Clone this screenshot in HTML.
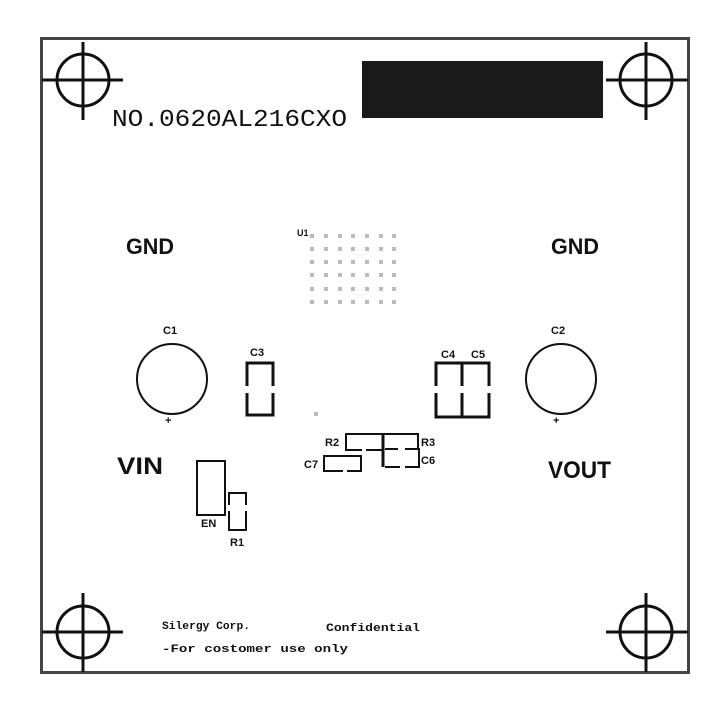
<!DOCTYPE html>
<html><head><meta charset="utf-8"><style>html,body{margin:0;padding:0;background:#fff}svg{display:block}</style></head>
<body>
<svg width="720" height="720" viewBox="0 0 720 720" xmlns="http://www.w3.org/2000/svg">
<rect width="720" height="720" fill="#fff"/>
<rect x="41.5" y="38.5" width="647" height="634" fill="none" stroke="#444" stroke-width="3"/>
<g stroke="#111" stroke-width="3" fill="none">
<circle cx="83" cy="80" r="26"/><line x1="42" y1="80" x2="123" y2="80"/><line x1="83" y1="42" x2="83" y2="120"/>
<circle cx="646" cy="80" r="26"/><line x1="606" y1="80" x2="688" y2="80"/><line x1="646" y1="42" x2="646" y2="120"/>
<circle cx="83" cy="632" r="26"/><line x1="42" y1="632" x2="123" y2="632"/><line x1="83" y1="593" x2="83" y2="672"/>
<circle cx="646" cy="632" r="26"/><line x1="606" y1="632" x2="688" y2="632"/><line x1="646" y1="593" x2="646" y2="672"/>
</g>
<rect x="362" y="61" width="241" height="57" fill="#1a1a1a"/>
<text x="112" y="126" font-family="Liberation Mono, monospace" font-size="24" textLength="235" lengthAdjust="spacingAndGlyphs" fill="#111">NO.0620AL216CXO</text>
<g font-family="Liberation Sans, sans-serif" font-weight="bold" fill="#111">
<text x="126" y="254" font-size="22" textLength="48" lengthAdjust="spacingAndGlyphs">GND</text>
<text x="551" y="254" font-size="22" textLength="48" lengthAdjust="spacingAndGlyphs">GND</text>
<text x="117" y="474" font-size="24" textLength="46" lengthAdjust="spacingAndGlyphs">VIN</text>
<text x="548" y="478" font-size="24" textLength="63" lengthAdjust="spacingAndGlyphs">VOUT</text>
<g font-size="11">
<text x="163" y="334">C1</text><text x="551" y="334">C2</text><text x="250" y="356">C3</text>
<text x="441" y="358">C4</text><text x="471" y="358">C5</text>
<text x="297" y="236" font-size="9">U1</text>
<text x="325" y="446">R2</text><text x="421" y="446">R3</text><text x="421" y="464">C6</text><text x="304" y="468">C7</text>
<text x="201" y="527">EN</text><text x="230" y="546">R1</text>
<text x="165" y="424">+</text><text x="553" y="424">+</text>
</g>
<g font-family="Liberation Mono, monospace" font-size="11">
<text x="162" y="629" textLength="88" lengthAdjust="spacingAndGlyphs">Silergy Corp.</text>
<text x="326" y="631" textLength="94" lengthAdjust="spacingAndGlyphs">Confidential</text>
<text x="162" y="652" textLength="186" lengthAdjust="spacingAndGlyphs">-For costomer use only</text>
</g>
</g>
<g stroke="#111" fill="none">
<circle cx="172" cy="379" r="35" stroke-width="2"/>
<circle cx="561" cy="379" r="35" stroke-width="2"/>
<path d="M247 386V363H273V386M247 393V415H273V393" stroke-width="3"/>
<path d="M436 386V363H462V386M436 393V417H462V393M462 386V363H489V386M462 393V417H489V393" stroke-width="3"/>
<g stroke-width="2">
<path d="M418 450V434H346V450H362M366 450H382"/>
<path d="M383 434V467" stroke-width="3"/>
<path d="M385 449H398M405 449H419V467H405M400 467H385"/>
<path d="M343 471H324V456H361V471H347"/>
</g>
<rect x="197" y="461" width="28" height="54" stroke-width="2"/>
<path d="M229 505V493H246V505M229 511V530H246V511" stroke-width="2"/>
</g>
<g fill="#bbb">
<rect x="310" y="234" width="4" height="4"/><rect x="324" y="234" width="4" height="4"/><rect x="338" y="234" width="4" height="4"/><rect x="351" y="234" width="4" height="4"/><rect x="365" y="234" width="4" height="4"/><rect x="379" y="234" width="4" height="4"/><rect x="392" y="234" width="4" height="4"/>
<rect x="310" y="247" width="4" height="4"/><rect x="324" y="247" width="4" height="4"/><rect x="338" y="247" width="4" height="4"/><rect x="351" y="247" width="4" height="4"/><rect x="365" y="247" width="4" height="4"/><rect x="379" y="247" width="4" height="4"/><rect x="392" y="247" width="4" height="4"/>
<rect x="310" y="260" width="4" height="4"/><rect x="324" y="260" width="4" height="4"/><rect x="338" y="260" width="4" height="4"/><rect x="351" y="260" width="4" height="4"/><rect x="365" y="260" width="4" height="4"/><rect x="379" y="260" width="4" height="4"/><rect x="392" y="260" width="4" height="4"/>
<rect x="310" y="273" width="4" height="4"/><rect x="324" y="273" width="4" height="4"/><rect x="338" y="273" width="4" height="4"/><rect x="351" y="273" width="4" height="4"/><rect x="365" y="273" width="4" height="4"/><rect x="379" y="273" width="4" height="4"/><rect x="392" y="273" width="4" height="4"/>
<rect x="310" y="287" width="4" height="4"/><rect x="324" y="287" width="4" height="4"/><rect x="338" y="287" width="4" height="4"/><rect x="351" y="287" width="4" height="4"/><rect x="365" y="287" width="4" height="4"/><rect x="379" y="287" width="4" height="4"/><rect x="392" y="287" width="4" height="4"/>
<rect x="310" y="300" width="4" height="4"/><rect x="324" y="300" width="4" height="4"/><rect x="338" y="300" width="4" height="4"/><rect x="351" y="300" width="4" height="4"/><rect x="365" y="300" width="4" height="4"/><rect x="379" y="300" width="4" height="4"/><rect x="392" y="300" width="4" height="4"/>
<rect x="314" y="412" width="4" height="4"/>
</g>
</svg>
</body></html>
